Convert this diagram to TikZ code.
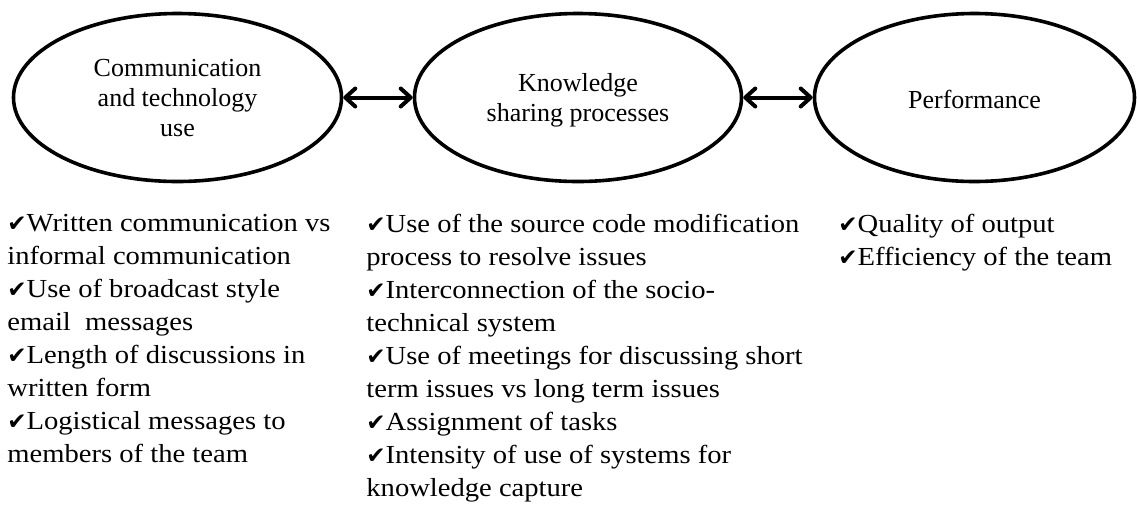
\documentclass[tikz,border=0pt]{standalone}
\usepackage{fontspec}
\setmainfont{Liberation Serif}
\newfontfamily\listfont[FakeStretch=1.1]{Liberation Serif}
\newfontfamily\symfont{DejaVu Sans}
\usetikzlibrary{shapes.geometric,arrows.meta}
\newcommand{\ck}{{\symfont\fontsize{11.5}{16}\selectfont ✔}}
\tikzset{
  oval/.style={draw, line width=1.8pt, ellipse, inner sep=0pt, minimum height=84pt,
    align=center, font=\fontsize{13}{15}\selectfont},
  link/.style={line width=2pt, {Straight Barb[round,length=5pt,width=9pt]}-{Straight Barb[round,length=5pt,width=9pt]}},
  listtext/.style={anchor=north west, inner sep=0pt, align=left, font=\listfont\fontsize{13}{16.5}\selectfont}
}
\begin{document}
\begin{tikzpicture}[x=0.5pt,y=-0.5pt]
\useasboundingbox (0,0) rectangle (1137,516);
\node[oval, minimum width=164pt] (comm) at (177.5,97.5) {\rule{0pt}{9pt}Communication\\and technology\\use};
\node[oval, minimum width=163.5pt] (know) at (578,97.5) {\rule{0pt}{12pt}Knowledge\\sharing processes};
\node[oval, minimum width=160pt] (perf) at (974.5,97.5) {\rule{0pt}{11pt}Performance};
\draw[link] (comm.east) -- (know.west);
\draw[link] (know.east) -- (perf.west);
\node[listtext] (l1) at (7,214) {\ck Written communication vs\\informal communication\\\ck Use of broadcast style\\email\ \ messages\\\ck Length of discussions in\\written form\\\ck Logistical messages to\\members of the team};
\node[listtext] (l2) at (366,214) {\ck Use of the source code modification\\process to resolve issues\\\ck Interconnection of the socio-\\technical system\\\ck Use of meetings for discussing short\\term issues vs long term issues\\\ck Assignment of tasks\\\ck Intensity of use of systems for\\knowledge capture};
\node[listtext] (l3) at (838,214) {\ck Quality of output\\\ck Efficiency of the team};
\end{tikzpicture}
\end{document}
